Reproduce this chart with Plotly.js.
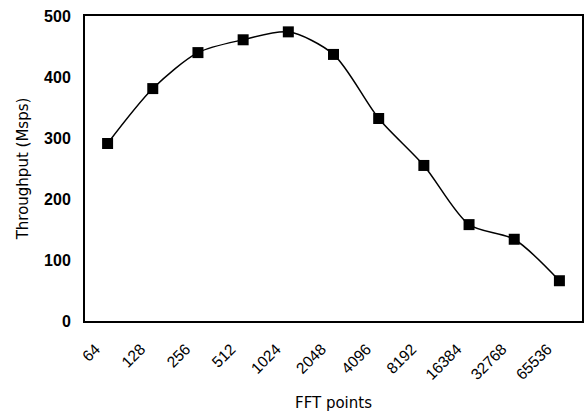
<!DOCTYPE html>
<html>
<head>
<meta charset="utf-8">
<script src="https://cdn.plot.ly/plotly-3.0.1.min.js"></script>
<style>body{margin:0;padding:0;background:#fff;}#chart{width:585px;height:412px;}</style>
</head>
<body>
<div id="chart"></div>
<script>
const fftPoints = ['64','128','256','512','1024','2048','4096','8192','16384','32768','65536'];
const throughput = [291, 381, 440, 461, 474, 437, 332, 255, 158, 134, 66];
const yTicks = [0, 100, 200, 300, 400, 500];

const trace = {
  x: fftPoints,
  y: throughput,
  type: 'scatter',
  mode: 'lines+markers',
  line: {color: '#000', width: 1.5, shape: 'spline', smoothing: 0.8},
  marker: {symbol: 'square', size: 11, color: '#000'},
  hoverinfo: 'skip'
};

const layout = {
  width: 585, height: 412,
  margin: {l: 85, r: 3, t: 16, b: 91},
  paper_bgcolor: '#fff', plot_bgcolor: '#fff',
  showlegend: false,
  font: {family: 'Liberation Sans, Arial, sans-serif', color: '#000'},
  xaxis: {
    type: 'category',
    range: [-0.5, 10.5],
    showline: true, linecolor: '#000', linewidth: 2, mirror: true,
    showgrid: false, zeroline: false, ticks: '',
    tickangle: -45,
    ticklabelshift: -12,
    ticklabelstandoff: 11,
    tickfont: {size: 15.5, color: '#000'},
    title: {text: 'FFT points', font: {family: 'DejaVu Sans, sans-serif', size: 15, color: '#000'}, standoff: 16}
  },
  yaxis: {
    range: [0, 500],
    tickvals: yTicks,
    showline: true, linecolor: '#000', linewidth: 2, mirror: true,
    showgrid: false, zeroline: false, ticks: '',
    ticklabelstandoff: 9,
    tickfont: {size: 16, color: '#000', weight: 'bold'},
    title: {text: 'Throughput (Msps)', font: {family: 'DejaVu Sans, sans-serif', size: 15, color: '#000'}, standoff: 12}
  }
};

Plotly.newPlot('chart', [trace], layout, {displayModeBar: false, staticPlot: true});
</script>
</body>
</html>
